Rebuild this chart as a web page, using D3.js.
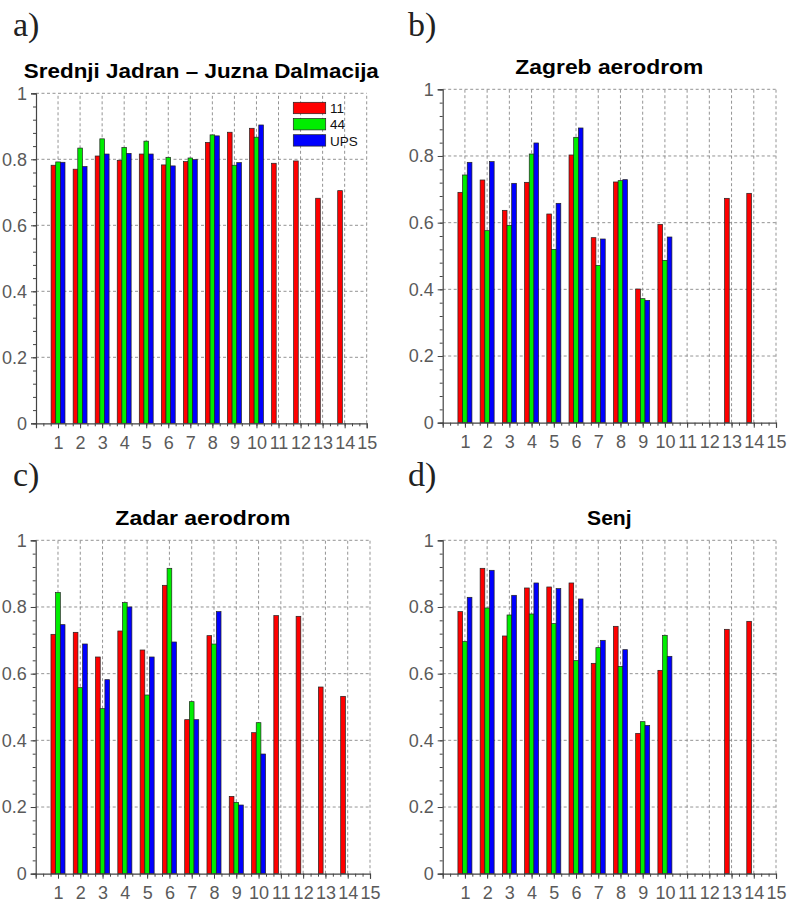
<!DOCTYPE html>
<html>
<head>
<meta charset="utf-8">
<script src="https://cdn.jsdelivr.net/npm/d3@7"></script>
<style>
  html, body { margin: 0; padding: 0; background: #fff; }
  svg { display: block; }
</style>
</head>
<body>
<svg id="chart" width="789" height="903"></svg>
<script>
// ---------------- DATA ----------------
const categories = [1,2,3,4,5,6,7,8,9,10,11,12,13,14];
const xTickLabels = ["1","2","3","4","5","6","7","8","9","10","11","12","13","14","15"];
const yTickValues = [0, 0.2, 0.4, 0.6, 0.8, 1];
const yTickLabels = ["0","0.2","0.4","0.6","0.8","1"];
const seriesNames = ["11", "44", "UPS"];
const seriesColors = ["#ff0000", "#00ee00", "#0000ff"];

const panelLetters = ["a)", "b)", "c)", "d)"];
const panelTitles = ["Srednji Jadran \u2013 Juzna Dalmacija", "Zagreb aerodrom", "Zadar aerodrom", "Senj"];

// panel a) Srednji Jadran - Juzna Dalmacija
const a_11  = [0.782,0.770,0.810,0.797,0.816,0.783,0.793,0.851,0.882,0.894,0.788,0.795,0.682,0.705];
const a_44  = [0.792,0.834,0.862,0.836,0.855,0.806,0.804,0.874,0.782,0.867,null,null,null,null];
const a_UPS = [0.791,0.778,0.816,0.818,0.816,0.780,0.799,0.871,0.790,0.904,null,null,null,null];

// panel b) Zagreb aerodrom
const b_11  = [0.691,0.728,0.637,0.721,0.626,0.803,0.555,0.722,0.401,0.595,null,null,0.673,0.688];
const b_44  = [0.743,0.576,0.592,0.806,0.520,0.856,0.472,0.726,0.372,0.487,null,null,null,null];
const b_UPS = [0.781,0.783,0.718,0.839,0.658,0.884,0.551,0.729,0.367,0.557,null,null,null,null];

// panel c) Zadar aerodrom
const c_11  = [0.718,0.724,0.650,0.728,0.671,0.865,0.462,0.714,0.232,0.423,0.774,0.772,0.560,0.532];
const c_44  = [0.843,0.558,0.495,0.813,0.536,0.916,0.516,0.689,0.214,0.453,null,null,null,null];
const c_UPS = [0.747,0.689,0.582,0.800,0.650,0.695,0.462,0.786,0.206,0.359,null,null,null,null];

// panel d) Senj
const d_11  = [0.786,0.916,0.713,0.857,0.860,0.872,0.631,0.742,0.421,0.610,null,null,0.733,0.757];
const d_44  = [0.696,0.797,0.776,0.779,0.750,0.639,0.678,0.622,0.456,0.715,null,null,null,null];
const d_UPS = [0.829,0.910,0.835,0.872,0.855,0.824,0.700,0.672,0.445,0.652,null,null,null,null];

const panelSeries = [
  [a_11, a_44, a_UPS],
  [b_11, b_44, b_UPS],
  [c_11, c_44, c_UPS],
  [d_11, d_44, d_UPS]
];

// ---------------- LAYOUT ----------------
const layouts = [
  {x0: 36,    x1: 366.7, yTop: 93.3,  yBot: 423.3, lx: 13,  ly: 36,  ty: 77.5},
  {x0: 442.7, x1: 776,   yTop: 89.3,  yBot: 422.7, lx: 408, ly: 36,  ty: 73.5},
  {x0: 35.7,  x1: 370,   yTop: 540.3, yBot: 873.7, lx: 13,  ly: 486, ty: 524.5},
  {x0: 442.7, x1: 776,   yTop: 540.3, yBot: 873.7, lx: 408, ly: 486, ty: 524.5}
];
const titleWidths = [355, 188, 175, 44.6];

const svg = d3.select("#chart");
const tickColor = "#5a5a5a";
const barOffset = 0.21;   // in x units
const barWidthU = 0.21;

panelSeries.forEach((series, p) => {
  const L = layouts[p];
  const g = svg.append("g");
  const x = d3.scaleLinear().domain([0, 15]).range([L.x0, L.x1]);
  const y = d3.scaleLinear().domain([0, 1]).range([L.yBot, L.yTop]);

  // panel letter
  g.append("text")
    .attr("x", L.lx).attr("y", L.ly)
    .attr("font-family", "'Liberation Serif', 'DejaVu Serif', serif")
    .attr("font-size", 34)
    .attr("fill", "#222")
    .text(panelLetters[p]);

  // title
  g.append("text")
    .attr("x", (L.x0 + L.x1) / 2).attr("y", L.ty)
    .attr("text-anchor", "middle")
    .attr("font-family", "'Liberation Sans', Arial, sans-serif")
    .attr("font-weight", "bold")
    .attr("font-size", 19.5)
    .attr("fill", "#000")
    .attr("textLength", titleWidths[p])
    .attr("lengthAdjust", "spacingAndGlyphs")
    .text(panelTitles[p]);

  // grid lines
  const grid = g.append("g")
    .attr("stroke", "#888").attr("stroke-width", 0.9)
    .attr("stroke-dasharray", "3,2.5").attr("fill", "none");
  d3.range(1, 16).forEach(v => {
    grid.append("line").attr("x1", x(v)).attr("x2", x(v))
      .attr("y1", y(0)).attr("y2", y(1));
  });
  yTickValues.filter(v => v > 0).forEach(v => {
    grid.append("line").attr("x1", x(0)).attr("x2", x(15))
      .attr("y1", y(v)).attr("y2", y(v));
  });

  // bars
  series.forEach((vals, s) => {
    g.append("g").selectAll("rect")
      .data(categories.map((c, i) => ({c, v: vals[i]})).filter(d => d.v !== null))
      .join("rect")
      .attr("x", d => x(d.c + (s - 1) * barOffset - barWidthU / 2))
      .attr("width", d => x(barWidthU) - x(0))
      .attr("y", d => y(d.v))
      .attr("height", d => y(0) - y(d.v))
      .attr("fill", seriesColors[s])
      .attr("stroke", "#222")
      .attr("stroke-width", 0.7);
  });

  // Y axis
  const yAxis = d3.axisLeft(y)
    .tickValues(yTickValues)
    .tickFormat((d, i) => yTickLabels[i])
    .tickSize(5).tickPadding(4);
  const yg = g.append("g").attr("transform", `translate(${L.x0},0)`).call(yAxis);
  yg.select(".domain").attr("stroke", "#444").attr("stroke-width", 1.2);
  yg.selectAll(".tick line").attr("stroke", "#444");
  yg.selectAll(".tick text")
    .attr("font-family", "'Liberation Sans', Arial, sans-serif")
    .attr("font-size", 18).attr("fill", tickColor);
  const yMinor = d3.axisLeft(y).tickValues(d3.range(0, 1.0001, 0.04)).tickSize(3).tickFormat("");
  const ymg = g.append("g").attr("transform", `translate(${L.x0},0)`).call(yMinor);
  ymg.select(".domain").remove();
  ymg.selectAll(".tick line").attr("stroke", "#444");

  // X axis
  const xAxis = d3.axisBottom(x)
    .tickValues(d3.range(1, 16))
    .tickFormat((d, i) => xTickLabels[i])
    .tickSize(5).tickPadding(8);
  const xg = g.append("g").attr("transform", `translate(0,${L.yBot})`).call(xAxis);
  xg.select(".domain").attr("stroke", "#444").attr("stroke-width", 1.2);
  xg.selectAll(".tick line").attr("stroke", "#444");
  xg.selectAll(".tick text")
    .attr("font-family", "'Liberation Sans', Arial, sans-serif")
    .attr("font-size", 18).attr("fill", tickColor);
  const xMinor = d3.axisBottom(x).tickValues(d3.range(0, 45).map(k => k / 3)).tickSize(3).tickFormat("");
  const xmg = g.append("g").attr("transform", `translate(0,${L.yBot})`).call(xMinor);
  xmg.select(".domain").remove();
  xmg.selectAll(".tick line").attr("stroke", "#444");

  // legend (panel a only)
  if (p === 0) {
    const lg = g.append("g");
    seriesNames.forEach((name, s) => {
      const yy = 102.3 + s * 16.2;
      lg.append("rect")
        .attr("x", 293.3).attr("y", yy).attr("width", 32.4).attr("height", 11.4)
        .attr("fill", seriesColors[s]).attr("stroke", "#222").attr("stroke-width", 0.7);
      lg.append("text")
        .attr("x", 330).attr("y", yy + 10.8)
        .attr("font-family", "'Liberation Sans', Arial, sans-serif")
        .attr("font-size", 13.5).attr("fill", "#111")
        .text(name);
    });
  }
});
</script>
</body>
</html>
